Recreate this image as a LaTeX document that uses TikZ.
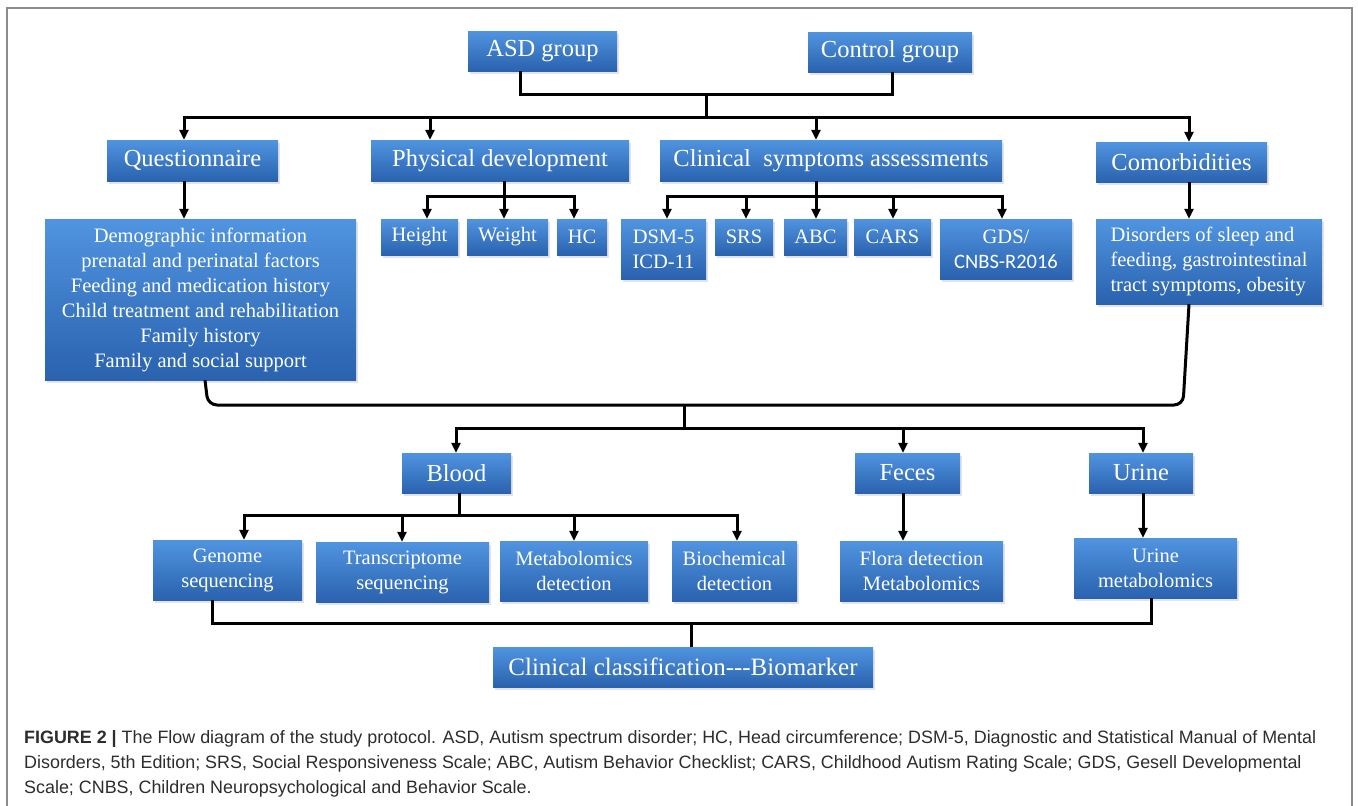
\documentclass[tikz,border=0pt]{standalone}
\usepackage{fontspec}
\setmainfont{Liberation Serif}
\newfontfamily\capfont{Liberation Sans}
\newfontfamily\calfont{Carlito}
\usetikzlibrary{arrows.meta,shadows}
\definecolor{btop}{RGB}{80,148,224}
\definecolor{bbot}{RGB}{42,98,174}
\definecolor{capgray}{RGB}{45,45,45}
\definecolor{framegray}{RGB}{140,140,140}
\begin{document}
\begin{tikzpicture}[x=1pt,y=-1pt,
  box/.style={draw=none, top color=btop, bottom color=bbot, text=white, inner sep=0pt, align=center,
    drop shadow={opacity=0.22, shadow xshift=1.5pt, shadow yshift=-2.5pt}},
  big/.style={box, font=\fontsize{24.5}{28}\selectfont},
  small/.style={box, font=\fontsize{20.5}{25}\selectfont},
  ln/.style={line width=3pt, black},
  arr/.style={ln, -{Triangle[length=10pt,width=9pt]}},
  captext/.style={anchor=base west, inner sep=0pt, text=capgray, font=\capfont\fontsize{17.9}{25}\selectfont},
]
\useasboundingbox (0,0) rectangle (1358,806);
\fill[white] (0,0) rectangle (1358,806);
\draw[framegray, line width=1.2pt] (7,830) -- (7,8) -- (1352,8) -- (1352,830);

% top level
\node[big, minimum width=149pt, minimum height=40pt] (asd) at (542.5,51) {ASD group};
\node[big, minimum width=164pt, minimum height=40pt] (ctrl) at (890,52) {Control group};

\node[big, minimum width=171pt, minimum height=41pt] (q) at (192.5,160.5) {Questionnaire};
\node[big, minimum width=258pt, minimum height=41pt] (pd) at (500,160.5) {Physical development};
\node[big, minimum width=342pt, minimum height=41pt] (cs) at (831,160.5) {Clinical\ \ symptoms assessments};
\node[big, minimum width=171pt, minimum height=40pt] (cm) at (1181.5,162) {Comorbidities};

\node[small, minimum width=311pt, minimum height=161pt] (qd) at (200.5,299.5)
  {Demographic information\\prenatal and perinatal factors\\Feeding and medication history\\Child treatment and rehabilitation\\Family history\\Family and social support};

\node[small, minimum width=77pt, minimum height=36pt] (ht) at (419.5,237) {Height};
\node[small, minimum width=81pt, minimum height=36pt] (wt) at (507.5,237) {Weight};
\node[small, minimum width=50pt, minimum height=36pt] (hc) at (582,237) {HC};

\node[small, minimum width=85pt, minimum height=60pt] (dsm) at (663.5,249) {DSM-5\\ICD-11};
\node[small, minimum width=58pt, minimum height=36pt] (srs) at (744,237) {SRS};
\node[small, minimum width=63pt, minimum height=36pt] (abc) at (815.5,237) {ABC};
\node[small, minimum width=77pt, minimum height=36pt] (cars) at (892.5,237) {CARS};
\node[small, minimum width=132pt, minimum height=60pt] (gds) at (1006,249) {GDS/\\{\calfont CNBS-R2016}};

\node[small, align=left, minimum width=226pt, minimum height=85pt] (cmd) at (1209,261.5)
  {Disorders of sleep and\\feeding, gastrointestinal\\tract symptoms, obesity};

% samples
\node[big, minimum width=109pt, minimum height=40pt] (blood) at (456.5,473) {Blood};
\node[big, minimum width=105pt, minimum height=40pt] (feces) at (907.5,473) {Feces};
\node[big, minimum width=104pt, minimum height=40pt] (urine) at (1141,473) {Urine};

\node[small, minimum width=149pt, minimum height=60pt] (genome) at (227.5,570) {Genome\\sequencing};
\node[small, minimum width=173pt, minimum height=60pt] (trans) at (402.5,572) {Transcriptome\\sequencing};
\node[small, minimum width=148pt, minimum height=60pt] (metab) at (574,571) {Metabolomics\\detection};
\node[small, minimum width=125pt, minimum height=60pt] (bio) at (734.5,571) {Biochemical\\detection};
\node[small, minimum width=163pt, minimum height=60pt] (flora) at (921.5,571) {Flora detection\\Metabolomics};
\node[small, minimum width=163pt, minimum height=60pt] (um) at (1155.5,568) {Urine\\metabolomics};

\node[big, font=\fontsize{25}{28}\selectfont, minimum width=380pt, minimum height=40pt] (cc) at (683,667) {Clinical classification-{}-{}-Biomarker};

% junction coordinates
\coordinate (jt) at (706,94);
\coordinate (b1) at (706,117);
\coordinate (jp) at (504,196);
\coordinate (jc) at (816,196);
\coordinate (cl) at (208,405);
\coordinate (cr) at (1183,405);
\coordinate (c1) at (684,405);
\coordinate (c2) at (684,428);
\coordinate (jb) at (459,515);
\coordinate (f1) at (691,623);

% connectors top
\draw[ln] ([xshift=-22.5pt]asd.south) |- (jt) -| ([xshift=2pt]ctrl.south);
\draw[ln] (jt) -- (b1);
\draw[arr] (b1) -| ([xshift=-8.5pt]q.north);
\draw[arr] (b1) -| ([xshift=-70pt]pd.north);
\draw[arr] (b1) -| ([xshift=-15pt]cs.north);
\draw[arr] (b1) -| ([xshift=7.5pt]cm.north);

\draw[arr] ([xshift=-8.5pt]q.south) -- ([xshift=-16.5pt]qd.north);

\draw[ln] ([xshift=4pt]pd.south) -- (jp);
\draw[arr] (jp) -| ([xshift=7.5pt]ht.north);
\draw[arr] (jp) -- ([xshift=-3.5pt]wt.north);
\draw[arr] (jp) -| ([xshift=-8pt]hc.north);

\draw[ln] ([xshift=-15pt]cs.south) -- (jc);
\draw[arr] (jc) -| ([xshift=3.5pt]dsm.north);
\draw[arr] (jc) -| ([xshift=2pt]srs.north);
\draw[arr] (jc) -- ([xshift=0.5pt]abc.north);
\draw[arr] (jc) -| ([xshift=0.5pt]cars.north);
\draw[arr] (jc) -| ([xshift=-4pt]gds.north);

\draw[arr] ([xshift=7.5pt]cm.south) -- ([xshift=-20pt]cmd.north);

% collector
\draw[ln, rounded corners=9pt] ([xshift=4.5pt]qd.south) -- (cl) -- (cr) -- ([xshift=-20pt]cmd.south);
\draw[ln] (c1) -- (c2);
\draw[arr] (c2) -| ([xshift=-0.5pt]blood.north);
\draw[arr] (c2) -| ([xshift=-4.5pt]feces.north);
\draw[arr] (c2) -| ([xshift=2pt]urine.north);

\draw[ln] ([xshift=2.5pt]blood.south) -- (jb);
\draw[arr] (jb) -| ([xshift=16.5pt]genome.north);
\draw[arr] (jb) -| ([xshift=-0.5pt]trans.north);
\draw[arr] (jb) -| (metab.north);
\draw[arr] (jb) -| ([xshift=2.5pt]bio.north);

\draw[arr] ([xshift=-4.5pt]feces.south) -- ([xshift=-18.5pt]flora.north);
\draw[arr] ([xshift=2pt]urine.south) -- ([xshift=-12.5pt]um.north);

\draw[ln] ([xshift=-15.5pt]genome.south) |- (f1) -| ([xshift=-4.5pt]um.south);
\draw[ln] (f1) -- ([xshift=8pt]cc.north);

% caption
\node[captext] (cap1) at (24,743.5) {\textbf{FIGURE 2 |} The Flow diagram of the study protocol. ASD, Autism spectrum disorder; HC, Head circumference; DSM-5, Diagnostic and Statistical Manual of Mental};
\node[captext] (cap2) at (24,768.5) {Disorders, 5th Edition; SRS, Social Responsiveness Scale; ABC, Autism Behavior Checklist; CARS, Childhood Autism Rating Scale; GDS, Gesell Developmental};
\node[captext] (cap3) at (24,793.5) {Scale; CNBS, Children Neuropsychological and Behavior Scale.};
\end{tikzpicture}
\end{document}
